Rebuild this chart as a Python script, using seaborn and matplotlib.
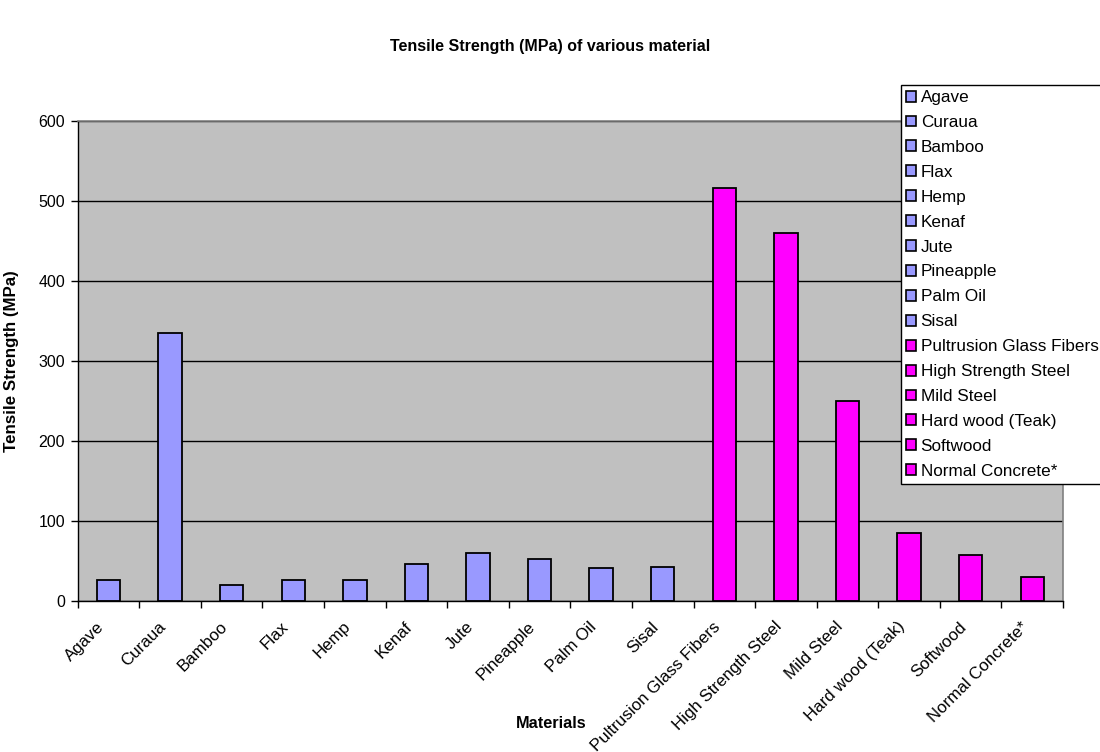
import matplotlib
matplotlib.use("Agg")
import matplotlib.pyplot as plt
import matplotlib.transforms as mtransforms
import seaborn as sns
import pandas as pd
import numpy as np

materials = ["Agave", "Curaua", "Bamboo", "Flax", "Hemp", "Kenaf", "Jute",
             "Pineapple", "Palm Oil", "Sisal", "Pultrusion Glass Fibers",
             "High Strength Steel", "Mild Steel", "Hard wood (Teak)",
             "Softwood", "Normal Concrete*"]
strength = [26, 335, 20, 26, 26, 46, 60, 53, 41, 43, 516, 460, 250, 85, 57, 30]
group = ["natural"] * 10 + ["conventional"] * 6
group_colors = {"natural": "#9999FF", "conventional": "#FF00FF"}

df = pd.DataFrame({"Material": materials, "Strength": strength, "Group": group})
palette = {m: group_colors[g] for m, g in zip(materials, group)}

sns.set_theme(style="white")
plt.rcParams['font.family'] = ['Liberation Sans', 'DejaVu Sans']
plt.rcParams['text.color'] = 'black'
plt.rcParams['axes.labelcolor'] = 'black'
plt.rcParams['xtick.color'] = 'black'
plt.rcParams['ytick.color'] = 'black'

fig = plt.figure(figsize=(11, 7.52), dpi=100)
ax = fig.add_axes([77.7/1100, 1 - 601/752, (1063 - 77.7)/1100, (601 - 121)/752])

sns.barplot(data=df, x="Material", y="Strength", hue="Material", palette=palette,
            order=materials, hue_order=materials, dodge=False, width=0.38,
            edgecolor="black", linewidth=1.3, saturation=1, legend=True, ax=ax)

ax.set_facecolor("#C0C0C0")
ax.set_ylim(0, 600)
ax.set_xlim(-0.5, len(materials) - 0.5)
ax.set_yticks(np.arange(0, 601, 100))
ax.yaxis.grid(True, color="black", linewidth=1.0)
ax.set_axisbelow(True)
for s in ["top", "right"]:
    ax.spines[s].set_color("#808080")
    ax.spines[s].set_linewidth(1.2)
for s in ["left", "bottom"]:
    ax.spines[s].set_color("black")
    ax.spines[s].set_linewidth(1.0)

ax.set_xticks(np.arange(len(materials)))
ax.set_xticklabels(materials, rotation=45, ha="right", va="top",
                   rotation_mode="anchor", fontsize=12.2)
ax.tick_params(axis="x", which="major", length=0, pad=13)
offset = mtransforms.ScaledTranslation(-12/100, 0, fig.dpi_scale_trans)
for lbl in ax.get_xticklabels():
    lbl.set_transform(lbl.get_transform() + offset)
ax.set_xticks(np.arange(-0.5, len(materials), 1), minor=True)
ax.tick_params(axis="x", which="minor", length=5, width=1, color="black",
               direction="out", bottom=True)
ax.tick_params(axis="y", length=5, width=1, color="black", direction="out",
               left=True, labelsize=11.5, pad=4)

ax.set_xlabel("Materials", fontsize=11.7, fontweight="bold")
ax.xaxis.set_label_coords((551 - 77.7) / (1063 - 77.7), -(716 - 601) / 480)
ax.set_ylabel("Tensile Strength (MPa)", fontsize=12.2, fontweight="bold")
ax.yaxis.set_label_coords(-(77.7 - 19) / (1063 - 77.7), 0.5)

fig.text(0.5, 1 - 47/752, "Tensile Strength (MPa) of various material",
         ha="center", va="center", fontsize=11.5, fontweight="bold")

leg = ax.get_legend()
if leg is not None:
    leg.remove()
handles, labels = ax.get_legend_handles_labels()
leg = fig.legend(handles, labels, loc="upper left",
                 bbox_to_anchor=(901/1100, 1 - 85/752), frameon=True,
                 fontsize=12.3, handlelength=0.6, handleheight=0.6,
                 handletextpad=0.25, labelspacing=0.58, borderpad=0.3,
                 borderaxespad=0, fancybox=False)
leg.get_frame().set_edgecolor("black")
leg.get_frame().set_linewidth(1.0)
leg.get_frame().set_facecolor("white")
leg.get_frame().set_alpha(1)
for p in leg.get_patches():
    p.set_edgecolor("black")
    p.set_linewidth(1.2)

fig.savefig("out.png", dpi=100, facecolor="white")
